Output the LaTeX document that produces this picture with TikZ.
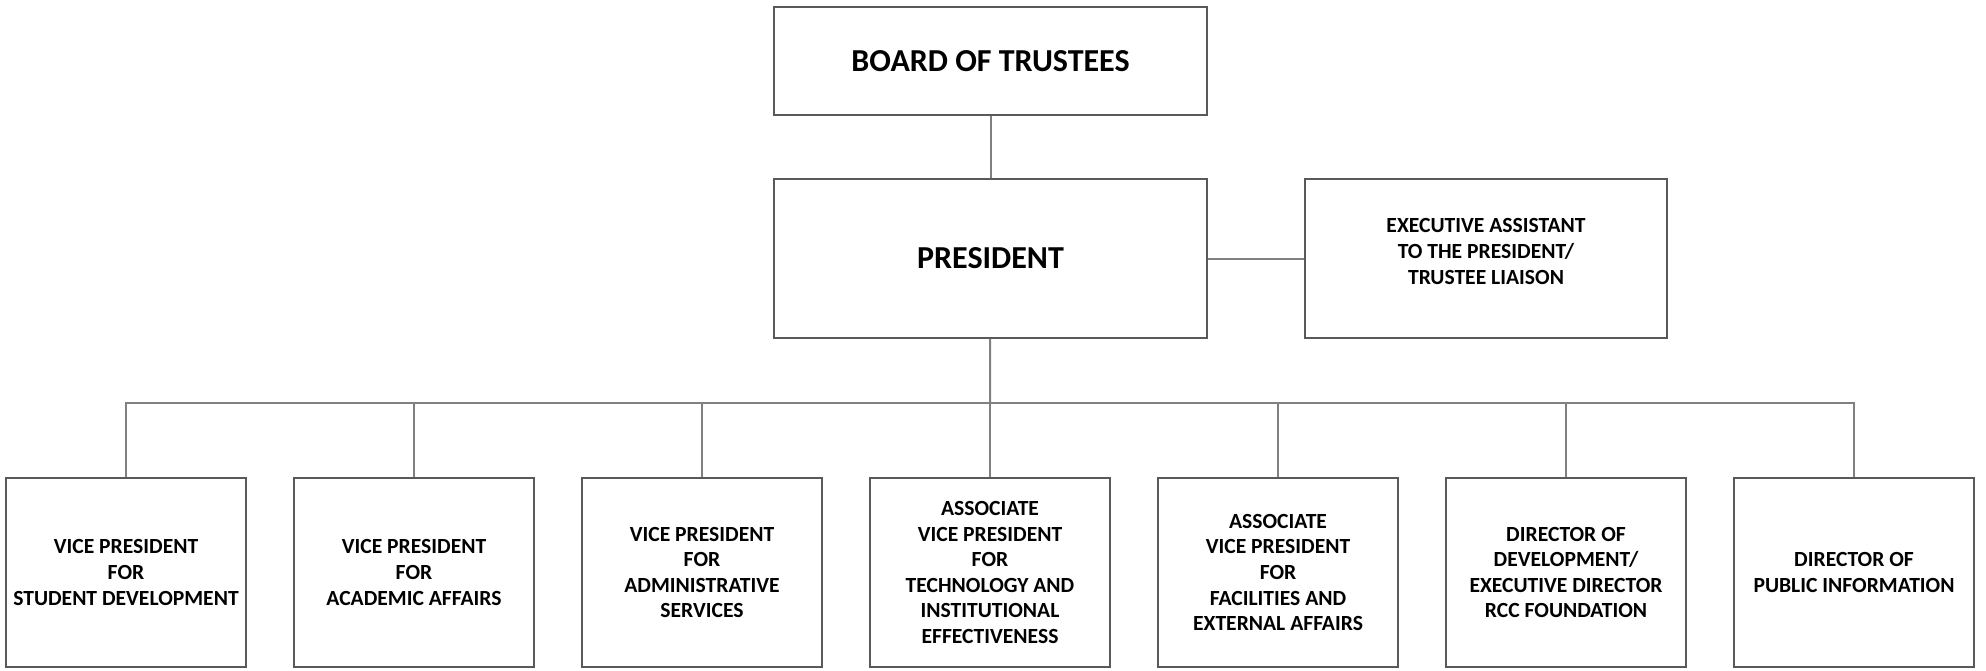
\documentclass[tikz,border=0pt]{standalone}
\usepackage{fontspec}
\setmainfont{Carlito}
\usepackage{tikz}
\usetikzlibrary{positioning}
\definecolor{boxline}{RGB}{89, 89, 89}
\definecolor{linkline}{RGB}{128, 128, 128}

\tikzset{
  topbox/.style={draw=boxline, line width=0.9pt, minimum width=216.5pt, inner sep=0pt,
                 align=center, font=\bfseries\fontsize{16}{19}\selectfont},
  unitbox/.style={draw=boxline, line width=0.9pt, minimum width=120pt, minimum height=94.5pt,
                  inner sep=0pt, align=center, font=\bfseries\fontsize{10.8}{12.8}\selectfont},
  link/.style={draw=linkline, line width=1pt}
}

\begin{document}
\begin{tikzpicture}[x=0.5pt, y=-0.5pt]
            \useasboundingbox (0, 0) rectangle (1986, 670);
            % top of the chart
            \node[topbox, minimum height=54pt]   (board)     at ( 990.5,  61.0) {BOARD OF TRUSTEES};
            \node[topbox, minimum height=79.5pt] (president) at ( 990.5, 258.5) {PRESIDENT};
            \node[unitbox, minimum width=181pt, minimum height=79.5pt, text depth=7pt] (assistant) at (1486.0, 258.5)
                 {EXECUTIVE ASSISTANT\\TO THE PRESIDENT/\\TRUSTEE LIAISON};
            \coordinate (bus) at (990, 403);
            % units reporting to the president
            \node[unitbox] (studentdev)  at ( 126, 572.5) {VICE PRESIDENT\\FOR\\STUDENT DEVELOPMENT};
            \node[unitbox] (academic)    at ( 414, 572.5) {VICE PRESIDENT\\FOR\\ACADEMIC AFFAIRS};
            \node[unitbox] (adminserv)   at ( 702, 572.5) {VICE PRESIDENT\\FOR\\ADMINISTRATIVE\\SERVICES};
            \node[unitbox] (technology)  at ( 990, 572.5) {ASSOCIATE\\VICE PRESIDENT\\FOR\\TECHNOLOGY AND\\INSTITUTIONAL\\EFFECTIVENESS};
            \node[unitbox] (facilities)  at (1278, 572.5) {ASSOCIATE\\VICE PRESIDENT\\FOR\\FACILITIES AND\\EXTERNAL AFFAIRS};
            \node[unitbox] (development) at (1566, 572.5) {DIRECTOR OF\\DEVELOPMENT/\\EXECUTIVE DIRECTOR\\RCC FOUNDATION};
            \node[unitbox] (publicinfo)  at (1854, 572.5) {DIRECTOR OF\\PUBLIC INFORMATION};
            % connectors
            \draw[link] (board) -- (president);
            \draw[link] (president) -- (assistant);
            \draw[link] (president) -- (bus);
            \draw[link] (studentdev.north)  |- (bus);
            \draw[link] (academic.north)    |- (bus);
            \draw[link] (adminserv.north)   |- (bus);
            \draw[link] (technology.north)  -- (bus);
            \draw[link] (facilities.north)  |- (bus);
            \draw[link] (development.north) |- (bus);
            \draw[link] (publicinfo.north)  |- (bus);
        \end{tikzpicture}
\end{document}
